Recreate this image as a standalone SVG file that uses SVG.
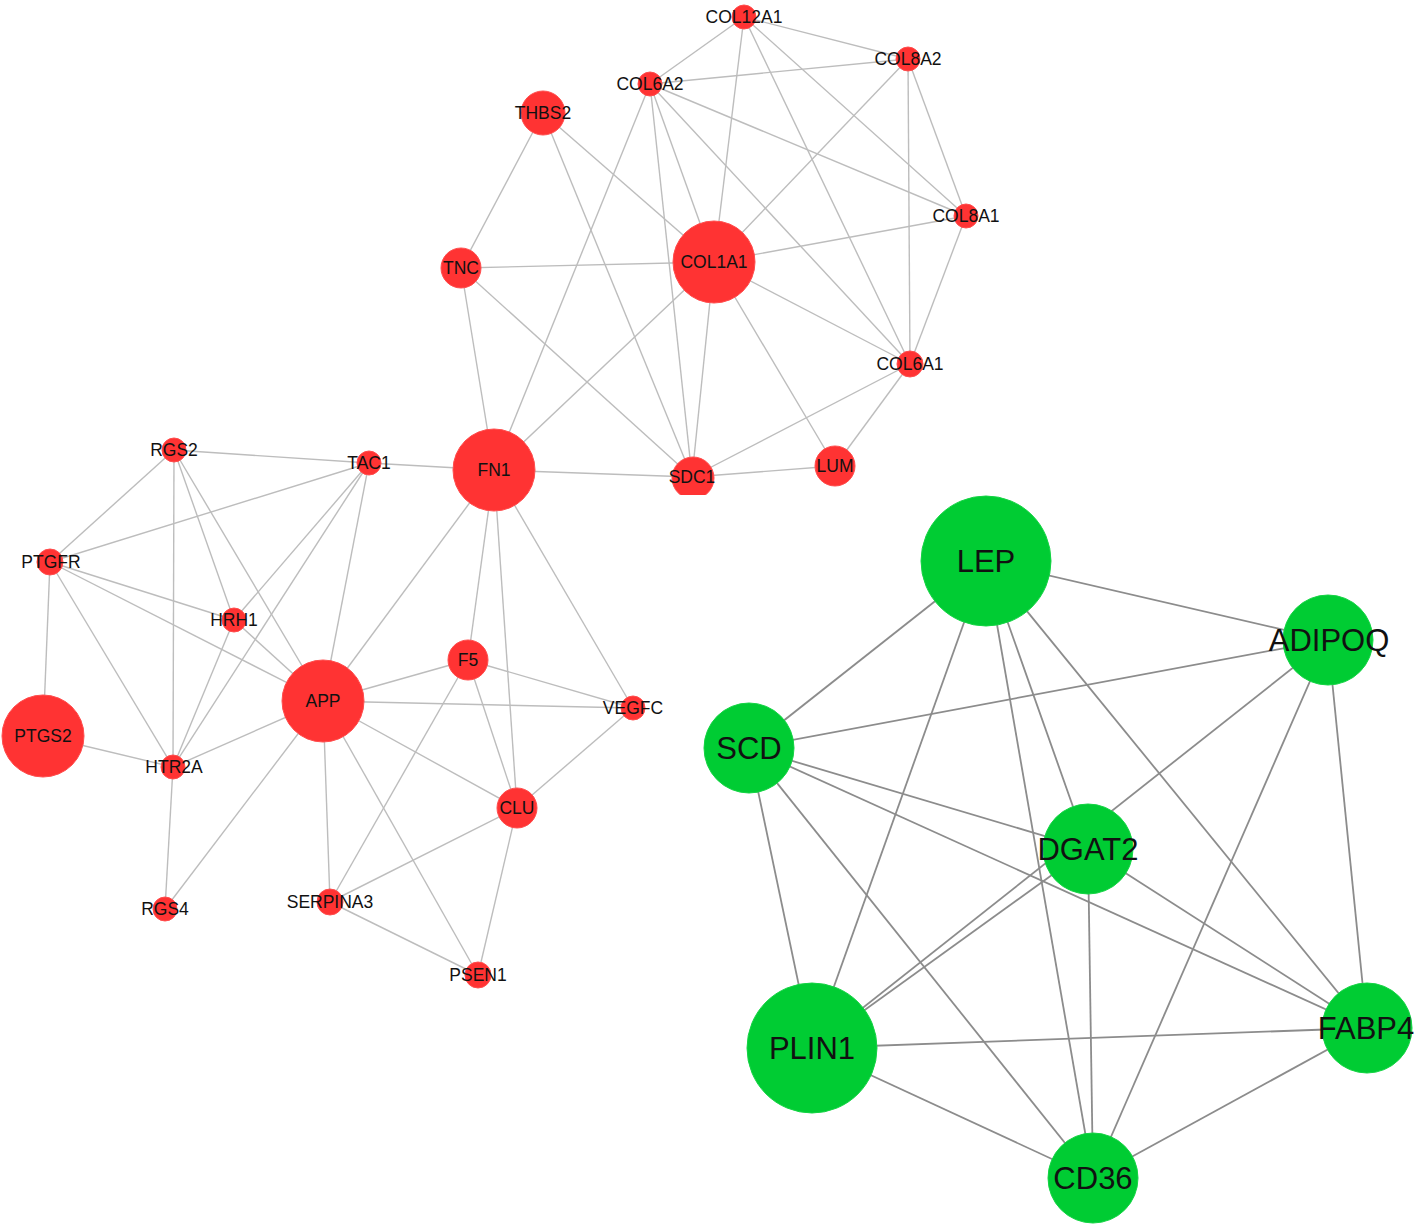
<svg xmlns="http://www.w3.org/2000/svg" width="1418" height="1227" viewBox="0 0 1418 1227">
<style>
.er{stroke:#bdbdbd;stroke-width:1.4;fill:none}
.eg{stroke:#8c8c8c;stroke-width:1.8;fill:none}
.nr{fill:#ff3333;stroke:#ff4d4d;stroke-width:1}
.ng{fill:#00cc33;stroke:#14d444;stroke-width:1}
.tr{font-family:"Liberation Sans",Arial,sans-serif;font-size:17.5px;fill:#111;text-anchor:middle}
.tg{font-family:"Liberation Sans",Arial,sans-serif;font-size:31px;fill:#111;text-anchor:middle}
</style>
<defs>
<clipPath id="sdcclip"><rect x="600" y="400" width="200" height="95"/></clipPath>
</defs>
<rect width="1418" height="1227" fill="#ffffff"/>
<g id="connectors">
<g class="er">
<line x1="744" y1="17" x2="650" y2="84"/>
<line x1="744" y1="17" x2="908" y2="59"/>
<line x1="744" y1="17" x2="714" y2="262"/>
<line x1="744" y1="17" x2="910" y2="364"/>
<line x1="744" y1="17" x2="966" y2="216"/>
<line x1="908" y1="59" x2="650" y2="84"/>
<line x1="908" y1="59" x2="714" y2="262"/>
<line x1="908" y1="59" x2="910" y2="364"/>
<line x1="908" y1="59" x2="966" y2="216"/>
<line x1="650" y1="84" x2="966" y2="216"/>
<line x1="650" y1="84" x2="910" y2="364"/>
<line x1="650" y1="84" x2="714" y2="262"/>
<line x1="650" y1="84" x2="692" y2="477"/>
<line x1="650" y1="84" x2="494" y2="470"/>
<line x1="543" y1="113" x2="461" y2="268"/>
<line x1="543" y1="113" x2="714" y2="262"/>
<line x1="543" y1="113" x2="692" y2="477"/>
<line x1="966" y1="216" x2="714" y2="262"/>
<line x1="966" y1="216" x2="910" y2="364"/>
<line x1="461" y1="268" x2="714" y2="262"/>
<line x1="461" y1="268" x2="692" y2="477"/>
<line x1="461" y1="268" x2="494" y2="470"/>
<line x1="714" y1="262" x2="494" y2="470"/>
<line x1="714" y1="262" x2="692" y2="477"/>
<line x1="714" y1="262" x2="835" y2="466"/>
<line x1="714" y1="262" x2="910" y2="364"/>
<line x1="910" y1="364" x2="692" y2="477"/>
<line x1="910" y1="364" x2="835" y2="466"/>
<line x1="494" y1="470" x2="692" y2="477"/>
<line x1="692" y1="477" x2="835" y2="466"/>
<line x1="369" y1="463" x2="494" y2="470"/>
<line x1="174" y1="450" x2="369" y2="463"/>
<line x1="174" y1="450" x2="50" y2="562"/>
<line x1="174" y1="450" x2="173" y2="767"/>
<line x1="174" y1="450" x2="234" y2="620"/>
<line x1="174" y1="450" x2="323" y2="701"/>
<line x1="369" y1="463" x2="50" y2="562"/>
<line x1="369" y1="463" x2="234" y2="620"/>
<line x1="369" y1="463" x2="173" y2="767"/>
<line x1="369" y1="463" x2="323" y2="701"/>
<line x1="50" y1="562" x2="234" y2="620"/>
<line x1="50" y1="562" x2="323" y2="701"/>
<line x1="50" y1="562" x2="43" y2="736"/>
<line x1="50" y1="562" x2="173" y2="767"/>
<line x1="234" y1="620" x2="323" y2="701"/>
<line x1="234" y1="620" x2="173" y2="767"/>
<line x1="43" y1="736" x2="173" y2="767"/>
<line x1="173" y1="767" x2="323" y2="701"/>
<line x1="173" y1="767" x2="165" y2="909"/>
<line x1="323" y1="701" x2="165" y2="909"/>
<line x1="323" y1="701" x2="494" y2="470"/>
<line x1="323" y1="701" x2="468" y2="660"/>
<line x1="323" y1="701" x2="633" y2="708"/>
<line x1="323" y1="701" x2="517" y2="808"/>
<line x1="323" y1="701" x2="330" y2="902"/>
<line x1="323" y1="701" x2="478" y2="975"/>
<line x1="494" y1="470" x2="468" y2="660"/>
<line x1="494" y1="470" x2="517" y2="808"/>
<line x1="494" y1="470" x2="633" y2="708"/>
<line x1="468" y1="660" x2="633" y2="708"/>
<line x1="468" y1="660" x2="517" y2="808"/>
<line x1="468" y1="660" x2="330" y2="902"/>
<line x1="633" y1="708" x2="517" y2="808"/>
<line x1="517" y1="808" x2="330" y2="902"/>
<line x1="517" y1="808" x2="478" y2="975"/>
<line x1="330" y1="902" x2="478" y2="975"/>
</g>
<g class="eg">
<line x1="986" y1="561" x2="1328" y2="640"/>
<line x1="986" y1="561" x2="749" y2="748"/>
<line x1="986" y1="561" x2="812" y2="1048"/>
<line x1="986" y1="561" x2="1093" y2="1178"/>
<line x1="986" y1="561" x2="1088" y2="849"/>
<line x1="986" y1="561" x2="1367" y2="1028"/>
<line x1="1328" y1="640" x2="749" y2="748"/>
<line x1="1328" y1="640" x2="812" y2="1048"/>
<line x1="1328" y1="640" x2="1093" y2="1178"/>
<line x1="1328" y1="640" x2="1367" y2="1028"/>
<line x1="749" y1="748" x2="1088" y2="849"/>
<line x1="749" y1="748" x2="1367" y2="1028"/>
<line x1="749" y1="748" x2="812" y2="1048"/>
<line x1="749" y1="748" x2="1093" y2="1178"/>
<line x1="1088" y1="849" x2="812" y2="1048"/>
<line x1="1088" y1="849" x2="1367" y2="1028"/>
<line x1="1088" y1="849" x2="1093" y2="1178"/>
<line x1="812" y1="1048" x2="1367" y2="1028"/>
<line x1="812" y1="1048" x2="1093" y2="1178"/>
<line x1="1367" y1="1028" x2="1093" y2="1178"/>
</g>
</g>
<g id="COL12A1"><circle class="nr" cx="744" cy="17" r="12"/><text class="tr" x="744" y="23">COL12A1</text></g>
<g id="COL8A2"><circle class="nr" cx="908" cy="59" r="12"/><text class="tr" x="908" y="65">COL8A2</text></g>
<g id="COL6A2"><circle class="nr" cx="650" cy="84" r="12"/><text class="tr" x="650" y="90">COL6A2</text></g>
<g id="THBS2"><circle class="nr" cx="543" cy="113" r="22"/><text class="tr" x="543" y="119">THBS2</text></g>
<g id="COL8A1"><circle class="nr" cx="966" cy="216" r="12"/><text class="tr" x="966" y="222">COL8A1</text></g>
<g id="TNC"><circle class="nr" cx="461" cy="268" r="20"/><text class="tr" x="461" y="274">TNC</text></g>
<g id="COL1A1"><circle class="nr" cx="714" cy="262" r="41"/><text class="tr" x="714" y="268">COL1A1</text></g>
<g id="COL6A1"><circle class="nr" cx="910" cy="364" r="13"/><text class="tr" x="910" y="370">COL6A1</text></g>
<g id="FN1"><circle class="nr" cx="494" cy="470" r="41"/><text class="tr" x="494" y="476">FN1</text></g>
<g id="SDC1"><circle class="nr" cx="693" cy="478" r="21" clip-path="url(#sdcclip)"/><text class="tr" x="692" y="483">SDC1</text></g>
<g id="LUM"><circle class="nr" cx="835" cy="466" r="20"/><text class="tr" x="835" y="472">LUM</text></g>
<g id="RGS2"><circle class="nr" cx="174" cy="450" r="12"/><text class="tr" x="174" y="456">RGS2</text></g>
<g id="TAC1"><circle class="nr" cx="369" cy="463" r="12"/><text class="tr" x="369" y="469">TAC1</text></g>
<g id="PTGFR"><circle class="nr" cx="50" cy="562" r="13"/><text class="tr" x="51" y="568">PTGFR</text></g>
<g id="HRH1"><circle class="nr" cx="234" cy="620" r="12"/><text class="tr" x="234" y="626">HRH1</text></g>
<g id="APP"><circle class="nr" cx="323" cy="701" r="41"/><text class="tr" x="323" y="707">APP</text></g>
<g id="F5"><circle class="nr" cx="468" cy="660" r="20"/><text class="tr" x="468" y="666">F5</text></g>
<g id="VEGFC"><circle class="nr" cx="633" cy="708" r="12"/><text class="tr" x="633" y="714">VEGFC</text></g>
<g id="PTGS2"><circle class="nr" cx="43" cy="736" r="41"/><text class="tr" x="43" y="742">PTGS2</text></g>
<g id="HTR2A"><circle class="nr" cx="173" cy="767" r="12"/><text class="tr" x="174" y="773">HTR2A</text></g>
<g id="CLU"><circle class="nr" cx="517" cy="808" r="20"/><text class="tr" x="517" y="814">CLU</text></g>
<g id="RGS4"><circle class="nr" cx="165" cy="909" r="12"/><text class="tr" x="165" y="915">RGS4</text></g>
<g id="SERPINA3"><circle class="nr" cx="330" cy="902" r="13"/><text class="tr" x="330" y="908">SERPINA3</text></g>
<g id="PSEN1"><circle class="nr" cx="478" cy="975" r="13"/><text class="tr" x="478" y="981">PSEN1</text></g>
<g id="LEP"><circle class="ng" cx="986" cy="561" r="65"/><text class="tg" x="986" y="572">LEP</text></g>
<g id="ADIPOQ"><circle class="ng" cx="1328" cy="640" r="45"/><text class="tg" x="1329" y="651">ADIPOQ</text></g>
<g id="SCD"><circle class="ng" cx="749" cy="748" r="45"/><text class="tg" x="749" y="759">SCD</text></g>
<g id="DGAT2"><circle class="ng" cx="1088" cy="849" r="45"/><text class="tg" x="1088" y="860">DGAT2</text></g>
<g id="PLIN1"><circle class="ng" cx="812" cy="1048" r="65"/><text class="tg" x="812" y="1059">PLIN1</text></g>
<g id="FABP4"><circle class="ng" cx="1367" cy="1028" r="45"/><text class="tg" x="1366" y="1039">FABP4</text></g>
<g id="CD36"><circle class="ng" cx="1093" cy="1178" r="45"/><text class="tg" x="1093" y="1189">CD36</text></g>
</svg>
